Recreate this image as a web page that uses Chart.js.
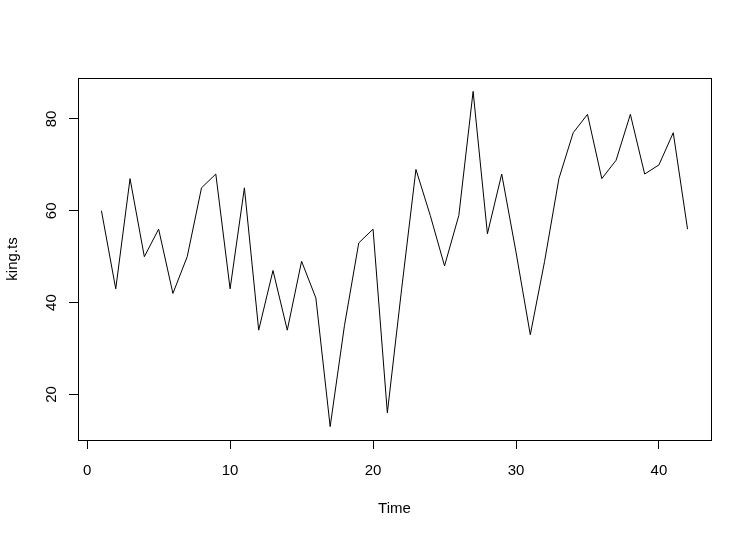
<!DOCTYPE html>
<html lang="en">
  <head>
    <meta charset="UTF-8" />
    <title>king.ts</title>
    <script src="https://cdn.jsdelivr.net/npm/chart.js"></script>
    <style>
      body { margin: 0; background: #fff; }
      canvas { display: block; }
    </style>
  </head>
  <body>
    <canvas id="kingChart" width="751" height="538"></canvas>
    <script>
      // age at death of successive kings
      const time = [1, 2, 3, 4, 5, 6, 7, 8, 9, 10, 11, 12, 13, 14, 15, 16, 17, 18, 19, 20, 21,
        22, 23, 24, 25, 26, 27, 28, 29, 30, 31, 32, 33, 34, 35, 36, 37, 38, 39, 40, 41, 42];
      const kingAges = [60, 43, 67, 50, 56, 42, 50, 65, 68, 43, 65, 34, 47, 34, 49, 41, 13, 35, 53, 56, 16,
        43, 69, 59, 48, 59, 86, 55, 68, 51, 33, 49, 67, 77, 81, 67, 71, 81, 68, 70, 77, 56];
      const xTicks = [0, 10, 20, 30, 40];
      const yTicks = [20, 40, 60, 80];

      const font = { family: "'Liberation Sans', Arial, sans-serif", size: 15 };

      // R style box around the plot region
      const boxPlugin = {
        id: "box",
        afterDraw(chart) {
          const { ctx, chartArea: a } = chart;
          ctx.save();
          ctx.strokeStyle = "#000";
          ctx.lineWidth = 1;
          ctx.strokeRect(Math.round(a.left) + 0.5, Math.round(a.top) + 0.5,
            Math.round(a.right - a.left), Math.round(a.bottom - a.top));
          ctx.restore();
        },
      };

      new Chart(document.getElementById("kingChart"), {
        type: "line",
        data: {
          datasets: [
            {
              data: time.map((t, i) => ({ x: t, y: kingAges[i] })),
              borderColor: "#000",
              borderWidth: 1,
              pointRadius: 0,
              tension: 0,
              fill: false,
            },
          ],
        },
        options: {
          responsive: false,
          animation: false,
          devicePixelRatio: 1,
          layout: { padding: { top: 78, right: 40, left: 0, bottom: 0 } },
          plugins: { legend: { display: false }, tooltip: { enabled: false } },
          scales: {
            x: {
              type: "linear",
              min: -0.64,
              max: 43.64,
              afterBuildTicks: (s) => { s.ticks = xTicks.map((v) => ({ value: v })); },
              afterFit: (s) => { s.height = 98; },
              border: { display: false },
              grid: { drawOnChartArea: false, tickLength: 9, color: "#000", tickColor: "#000" },
              ticks: { color: "#000", font, padding: 13, maxRotation: 0 },
              title: { display: true, text: "Time", color: "#000", font, padding: { top: 0, bottom: 20 } },
            },
            y: {
              type: "linear",
              min: 10.08,
              max: 88.92,
              afterBuildTicks: (s) => { s.ticks = yTicks.map((v) => ({ value: v })); },
              afterFit: (s) => { s.width = 78; },
              border: { display: false },
              grid: { drawOnChartArea: false, tickLength: 9, color: "#000", tickColor: "#000" },
              ticks: { color: "#000", font, padding: 9, minRotation: 90, maxRotation: 90, crossAlign: "center" },
              title: { display: true, text: "king.ts", color: "#000", font, padding: { top: 4, bottom: 0 } },
            },
          },
        },
        plugins: [boxPlugin],
      });
    </script>
  </body>
</html>
